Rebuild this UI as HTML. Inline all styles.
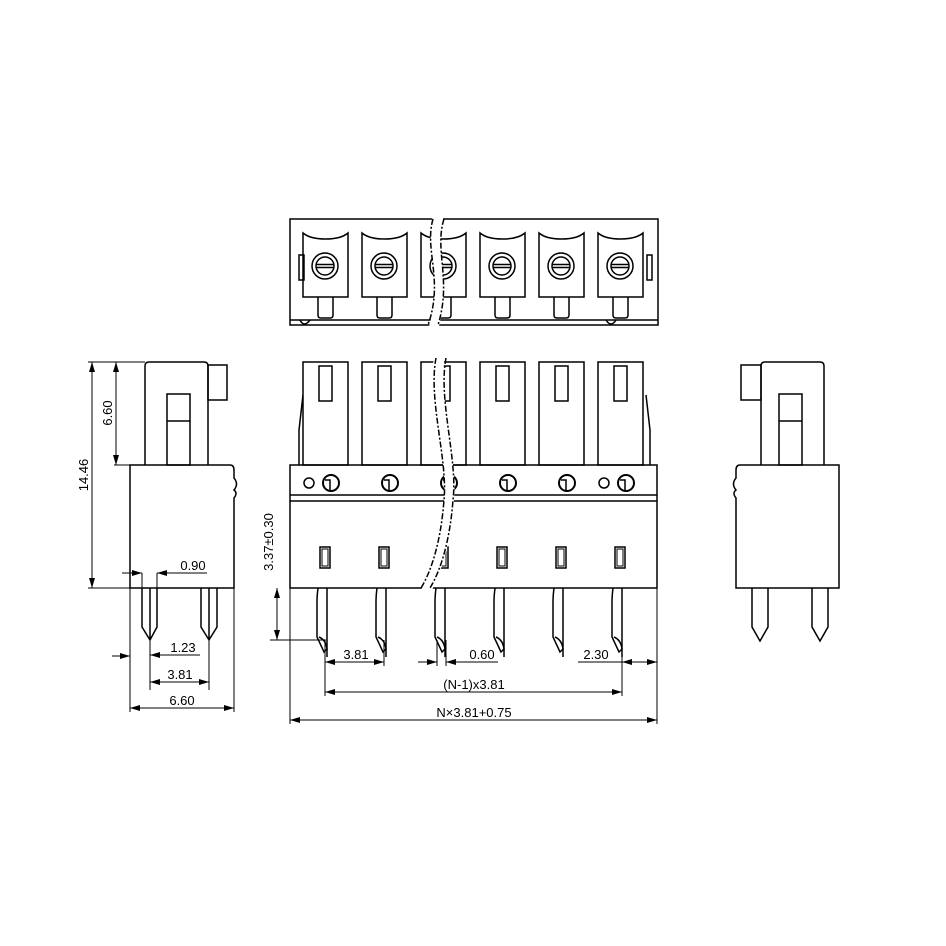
<!DOCTYPE html>
<html><head><meta charset="utf-8"><style>html,body{margin:0;padding:0;background:#fff}svg{display:block}</style></head><body>
<svg width="946" height="946" viewBox="0 0 946 946" xmlns="http://www.w3.org/2000/svg" font-family="Liberation Sans, DejaVu Sans, sans-serif" font-size="13">
<defs>
<marker id="a" viewBox="0 0 10 6" refX="10" refY="3" markerWidth="10" markerHeight="6" orient="auto-start-reverse" markerUnits="userSpaceOnUse"><path d="M0,0 L10,3 L0,6 Z" fill="#000"/></marker>
<g id="tt" fill="none" stroke="#000" stroke-width="1.5">
<path d="M0,14 V64 H45 V14 Q45,0 45,0 Q38,6 22.5,6 Q7,6 0,0 Z"/>
<circle cx="22" cy="33" r="13"/><circle cx="22" cy="33" r="9"/>
<line x1="13" y1="31.5" x2="31" y2="31.5"/><line x1="13" y1="34.5" x2="31" y2="34.5"/>
<path d="M15,64 V82 Q15,85 18,85 H27 Q30,85 30,82 V64"/>
</g>
<g id="ft" fill="none" stroke="#000" stroke-width="1.5">
<rect x="0" y="0" width="45" height="103" fill="#fff"/>
<rect x="16" y="4" width="13" height="35"/>
<circle cx="28" cy="121" r="8" stroke-width="2"/>
<path d="M22,118 H27 V128"/>
<rect x="17" y="185" width="10" height="21"/>
<rect x="19" y="187" width="6" height="17" stroke-width="1"/>
<path d="M15,226 Q14,234 14,240 V275 L21,290 L24,287 Q23,278 16,275"/>
<path d="M24,226 V295"/>
</g>
</defs>
<g fill="none" stroke="#000" stroke-width="1.5">
<!-- top view -->
<rect x="290" y="219" width="368" height="106"/>
<line x1="290" y1="320" x2="658" y2="320"/>
<rect x="299" y="255" width="5" height="25"/><rect x="647" y="255" width="5" height="25"/>
<use href="#tt" x="303" y="233"/><use href="#tt" x="362" y="233"/><use href="#tt" x="421" y="233"/>
<use href="#tt" x="480" y="233"/><use href="#tt" x="539" y="233"/><use href="#tt" x="598" y="233"/>
<path d="M300,320 Q304,328 310,320"/><path d="M606,320 Q611,328 616,320"/>
<path d="M433,215 C424,250 444,280 428,330 L438,330 C452,280 434,250 444,215 Z" fill="#fff" stroke="none"/>
<path d="M433,219 C424,250 444,280 428,325" stroke-dasharray="6,2,2,2"/>
<path d="M444,219 C434,250 452,280 438,325" stroke-dasharray="6,2,2,2"/>
<!-- front view -->
<path d="M303,395 L299,430 V465"/><path d="M646,395 L650,430 V465"/>
<use href="#ft" x="303" y="362"/><use href="#ft" x="362" y="362"/><use href="#ft" x="421" y="362"/>
<use href="#ft" x="480" y="362"/><use href="#ft" x="539" y="362"/><use href="#ft" x="598" y="362"/>
<rect x="290" y="465" width="367" height="123"/>
<line x1="290" y1="495" x2="657" y2="495"/><line x1="290" y1="501" x2="657" y2="501"/>
<circle cx="309" cy="483" r="5"/><circle cx="604" cy="483" r="5"/>
<path d="M434,355 C428,400 448,460 444,500 C441,540 432,570 420,592 L431,592 C442,570 452,540 454,500 C458,460 438,400 445,355 Z" fill="#fff" stroke="none"/>
<path d="M436,358 C428,400 448,460 444,500 C441,540 432,570 421,588" stroke-dasharray="6,2,2,2"/>
<path d="M446,358 C438,400 458,460 453,500 C450,540 441,570 430,588" stroke-dasharray="6,2,2,2"/>
<!-- left side -->
<path d="M145,465 V366 Q145,362 149,362 H204 Q208,362 208,366 V465"/>
<rect x="208" y="365" width="19" height="35"/>
<rect x="167" y="394" width="23" height="71"/><line x1="167" y1="421" x2="190" y2="421"/>
<path d="M130,588 V465 H230 Q234,465 234,470 V478 Q239,484 234,490 Q238,493 234,498 V588 Z"/>
<path d="M142,588 V627 L150,640 L157,627 V588 M150,588 V640"/>
<path d="M201,588 V627 L209,640 L217,627 V588 M209,588 V640"/>
<!-- right side -->
<path d="M761,465 V366 Q761,362 765,362 H820 Q824,362 824,366 V465"/>
<rect x="741" y="365" width="20" height="35"/>
<rect x="779" y="394" width="23" height="71"/><line x1="779" y1="421" x2="802" y2="421"/>
<path d="M839,588 V465 H740 Q736,465 736,470 V478 Q731,484 736,490 Q732,493 736,498 V588 Z"/>
<path d="M752,588 V627 L760,641 L768,627 V588"/>
<path d="M812,588 V627 L820,641 L828,627 V588"/>
</g>
<!-- dimensions -->
<g fill="none" stroke="#000" stroke-width="1">
<line x1="88" y1="362" x2="145" y2="362"/><line x1="88" y1="588" x2="130" y2="588"/>
<line x1="114" y1="465" x2="145" y2="465"/>
<line x1="92" y1="362" x2="92" y2="588" marker-start="url(#a)" marker-end="url(#a)"/>
<line x1="116" y1="362" x2="116" y2="465" marker-start="url(#a)" marker-end="url(#a)"/>
<line x1="142" y1="573" x2="142" y2="588"/><line x1="157" y1="573" x2="157" y2="588"/>
<line x1="122" y1="573" x2="142" y2="573" marker-end="url(#a)"/>
<line x1="207" y1="573" x2="157" y2="573" marker-end="url(#a)"/>
<line x1="150" y1="640" x2="150" y2="690"/><line x1="209" y1="640" x2="209" y2="690"/>
<line x1="130" y1="588" x2="130" y2="712"/><line x1="234" y1="588" x2="234" y2="712"/>
<line x1="200" y1="655" x2="150" y2="655" marker-end="url(#a)"/>
<line x1="112" y1="656" x2="130" y2="656" marker-end="url(#a)"/>
<line x1="150" y1="682" x2="209" y2="682" marker-start="url(#a)" marker-end="url(#a)"/>
<line x1="130" y1="708" x2="234" y2="708" marker-start="url(#a)" marker-end="url(#a)"/>
<!-- front dims -->
<line x1="270" y1="640" x2="326" y2="640"/>
<line x1="277" y1="588" x2="277" y2="640" marker-start="url(#a)" marker-end="url(#a)"/>
<line x1="290" y1="588" x2="290" y2="724"/><line x1="657" y1="588" x2="657" y2="724"/>
<line x1="325" y1="640" x2="325" y2="696"/><line x1="384" y1="640" x2="384" y2="666"/>
<line x1="437" y1="640" x2="437" y2="666"/><line x1="446" y1="640" x2="446" y2="666"/>
<line x1="622" y1="640" x2="622" y2="696"/>
<line x1="325" y1="662" x2="384" y2="662" marker-start="url(#a)" marker-end="url(#a)"/>
<line x1="418" y1="662" x2="437" y2="662" marker-end="url(#a)"/>
<line x1="498" y1="662" x2="446" y2="662" marker-end="url(#a)"/>
<line x1="578" y1="662" x2="622" y2="662"/>
<line x1="622" y1="662" x2="657" y2="662" marker-start="url(#a)" marker-end="url(#a)"/>
<line x1="325" y1="692" x2="622" y2="692" marker-start="url(#a)" marker-end="url(#a)"/>
<line x1="290" y1="720" x2="657" y2="720" marker-start="url(#a)" marker-end="url(#a)"/>
</g>
<g fill="#000">
<text x="88" y="475" transform="rotate(-90 88 475)" text-anchor="middle" dominant-baseline="auto">14.46</text>
<text x="112" y="413" transform="rotate(-90 112 413)" text-anchor="middle">6.60</text>
<text x="273" y="542" transform="rotate(-90 273 542)" text-anchor="middle">3.37±0.30</text>
<text x="193" y="570" text-anchor="middle">0.90</text>
<text x="183" y="652" text-anchor="middle">1.23</text>
<text x="180" y="679" text-anchor="middle">3.81</text>
<text x="182" y="705" text-anchor="middle">6.60</text>
<text x="356" y="659" text-anchor="middle">3.81</text>
<text x="482" y="659" text-anchor="middle">0.60</text>
<text x="596" y="659" text-anchor="middle">2.30</text>
<text x="474" y="689" text-anchor="middle">(N-1)x3.81</text>
<text x="474" y="717" text-anchor="middle">N×3.81+0.75</text>
</g>
</svg>
</body></html>
